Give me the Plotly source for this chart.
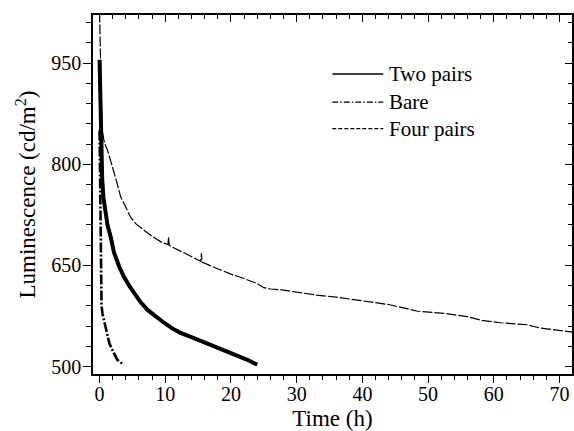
import plotly.graph_objects as go

# ---- data ----
four_t = [0, 0.05, 0.1, 0.2, 0.35, 0.5, 0.65, 0.9, 1.2, 1.6, 2.0, 2.6, 3.2, 4.0, 4.7, 5.5, 6.5, 7.3,
          8.5, 9.5, 10.4, 10.5, 10.6, 11.5, 13, 14.9, 15.4, 15.5, 15.6, 17, 18.9, 20, 21, 22.5, 24,
          25, 26, 27.5, 30, 33, 36, 40, 44, 48.4, 52.4, 56, 58.4, 61, 65.1, 67.1, 70.2, 72]
four_v = [1025, 990, 960, 900, 860, 845, 836, 828, 821, 808, 795, 774, 752, 735, 722, 712, 704, 698,
          690, 684, 681, 692, 680, 675, 668, 658, 656, 668, 655, 649, 641, 637, 634, 629, 623,
          617, 615, 614, 610, 606, 603, 598, 592, 582, 579, 574, 568, 565, 562, 557, 553, 551]

two_t = [0, 0.05, 0.1, 0.15, 0.25, 0.4, 0.6, 0.9, 1.2, 1.7, 2.2, 3.0, 3.7, 4.5, 5.2, 6.2, 7.3, 8.5,
         9.8, 11, 12.3, 13.6, 14.9, 16.2, 17.4, 18.7, 19.9, 21.2, 22.5, 23.3, 24]
two_v = [955, 930, 880, 846, 810, 777, 750, 725, 710, 692, 669, 648, 633, 620, 609, 596, 584, 574,
         565, 557, 550, 545, 540, 535, 530, 525, 520, 515, 510, 506, 503]

bare_t = [0, 0.05, 0.1, 0.15, 0.2, 0.3, 0.45, 0.65, 0.9, 1.17, 1.5, 1.93, 2.3, 2.7, 3.2, 3.7]
bare_v = [850, 800, 720, 650, 610, 590, 578, 569, 556, 544, 534, 525, 517, 510, 506, 503]

series_names = ["Two pairs", "Bare", "Four pairs"]
x_title = "Time (h)"
y_title = "Luminescence (cd/m<sup>2</sup>)"

FONT = "Liberation Serif"
BLACK = "black"

plot_styles = [dict(color=BLACK, width=4.0),
               dict(color=BLACK, width=2.6, dash="10px,2px,2px,2px"),
               dict(color=BLACK, width=1.2, dash="10px,2px")]
legend_styles = [dict(color=BLACK, width=1.5),
                 dict(color=BLACK, width=1.3, dash="6px,2px,1.5px,2px"),
                 dict(color=BLACK, width=1.3, dash="4px,2px")]

fig = go.Figure()
for (tx, vy), name, st in zip([(two_t, two_v), (bare_t, bare_v), (four_t, four_v)],
                              series_names, plot_styles):
    fig.add_trace(go.Scatter(x=tx, y=vy, mode="lines", name=name, line=st, showlegend=False))
# invisible trace to activate the mirrored (top/right) axes
fig.add_trace(go.Scatter(x=[None], y=[None], xaxis="x2", yaxis="y2", showlegend=False))

# manual legend (longer sample lines, like the reference)
leg_y = [0.8354, 0.7573, 0.6834]
for name, st, yy in zip(series_names, legend_styles, leg_y):
    fig.add_shape(type="line", xref="paper", yref="paper", x0=0.4996, x1=0.606, y0=yy, y1=yy,
                  line=st)
    fig.add_annotation(xref="paper", yref="paper", x=0.614, y=yy, text=name, showarrow=False,
                       xanchor="left", yanchor="middle",
                       font=dict(family=FONT, size=21, color=BLACK))

XR = [-1.0, 71.9]
YR = [489, 1021.3]

tick_common = dict(showgrid=False, zeroline=False, showline=True, linecolor=BLACK, linewidth=1.5,
                   tickwidth=1.2, tickcolor=BLACK)

fig.update_layout(
    width=574, height=431,
    margin=dict(l=93, r=2, t=15, b=57, autoexpand=False),
    paper_bgcolor="white", plot_bgcolor="white",
    font=dict(family=FONT, size=20, color=BLACK),
    showlegend=False,
    xaxis=dict(range=XR, ticks="outside", ticklen=7, tick0=0, dtick=10, automargin=False,
               ticklabelstandoff=-6,
               tickfont=dict(family=FONT, size=20, color=BLACK),
               minor=dict(dtick=2, tick0=0, ticks="outside", ticklen=4, tickwidth=1, tickcolor=BLACK),
               title=dict(text=x_title, font=dict(family=FONT, size=23, color=BLACK), standoff=8),
               **tick_common),
    yaxis=dict(range=YR, ticks="outside", ticklen=8, tick0=500, dtick=150, automargin=False,
               ticklabelstandoff=-2,
               tickfont=dict(family=FONT, size=20, color=BLACK),
               minor=dict(dtick=30, tick0=500, ticks="outside", ticklen=5, tickwidth=1, tickcolor=BLACK),
               title=dict(text=y_title, font=dict(family=FONT, size=23, color=BLACK), standoff=9),
               **tick_common),
    xaxis2=dict(range=XR, overlaying="x", side="top", showticklabels=False,
                ticks="inside", ticklen=7, tick0=0, dtick=10,
                minor=dict(dtick=2, tick0=0, ticks="inside", ticklen=4, tickwidth=1, tickcolor=BLACK),
                **tick_common),
    yaxis2=dict(range=YR, overlaying="y", side="right", showticklabels=False,
                ticks="inside", ticklen=7, tick0=500, dtick=150,
                minor=dict(dtick=30, tick0=500, ticks="inside", ticklen=4, tickwidth=1, tickcolor=BLACK),
                **tick_common),
)

fig.write_html("out.html", config={"displayModeBar": False},
               post_script="document.body.style.margin='0';document.body.style.padding='0';")
